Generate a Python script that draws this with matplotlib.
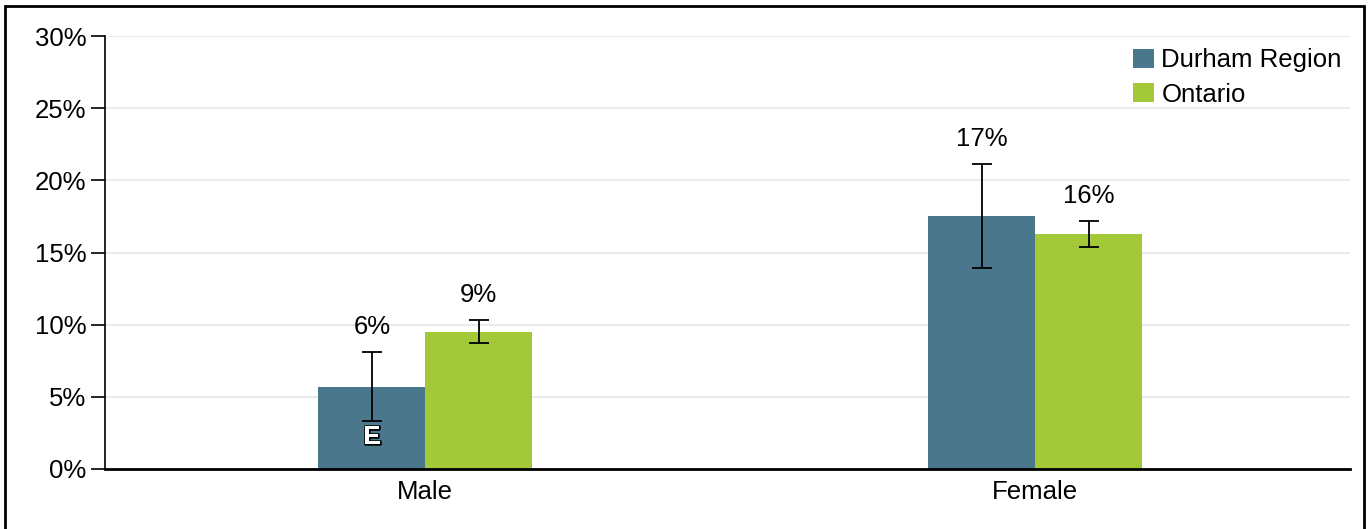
import matplotlib.pyplot as plt
import matplotlib.patheffects as pe
import numpy as np

categories = ['Male', 'Female']
durham = [5.7, 17.5]
durham_lo = [3.3, 13.9]
durham_hi = [8.1, 21.1]
ontario = [9.5, 16.3]
ontario_lo = [8.7, 15.4]
ontario_hi = [10.3, 17.2]
durham_labels = ['6%', '17%']
ontario_labels = ['9%', '16%']

plt.rcParams['font.family'] = ['Liberation Sans', 'DejaVu Sans']
fig = plt.figure(figsize=(13.69, 5.29), dpi=100)
ax = fig.add_axes([105/1369, (529-469)/529, 1245/1369, 433/529])

x = np.arange(len(categories))
w = 0.175
fs = 18.5
for vals, lo, hi, labs, off, col, name in [
        (durham, durham_lo, durham_hi, durham_labels, -w/2, '#4a778c', 'Durham Region'),
        (ontario, ontario_lo, ontario_hi, ontario_labels, w/2, '#a3c939', 'Ontario')]:
    xs = x + off
    ax.bar(xs, vals, w, color=col, label=name, zorder=2)
    err = [np.array(vals) - np.array(lo), np.array(hi) - np.array(vals)]
    ax.errorbar(xs, vals, yerr=err, fmt='none', ecolor='black', elinewidth=1.3,
                capsize=7, capthick=1.3, zorder=3)
    for xi, h, t in zip(xs, hi, labs):
        ax.text(xi, h + 0.9, t, ha='center', va='bottom', fontsize=fs)

ax.text(x[0] - w/2, 2.2, 'E', ha='center', va='center', fontsize=19, color='white',
        fontweight='bold', zorder=4,
        path_effects=[pe.withStroke(linewidth=1.8, foreground='black')])

ax.set_xlim(-0.525, 1.516)
ax.set_ylim(0, 30)
ax.set_yticks(range(0, 31, 5))
ax.set_yticklabels([f'{v}%' for v in range(0, 31, 5)], fontsize=fs)
ax.set_xticks(x)
ax.set_xticklabels(categories, fontsize=fs)
ax.tick_params(axis='x', length=0, pad=8)
ax.tick_params(axis='y', length=10, width=1.2)
ax.grid(axis='y', color='#e6e6e6', linewidth=1.2, zorder=0)
ax.set_axisbelow(True)
for s in ['top', 'right']:
    ax.spines[s].set_visible(False)
ax.spines['bottom'].set_linewidth(2)
ax.spines['left'].set_linewidth(1.2)
ax.legend(loc='upper right', bbox_to_anchor=(1.012, 1.025), frameon=False, fontsize=fs,
          handlelength=0.8, handleheight=0.8, handletextpad=0.3, labelspacing=0.4)

fig.patches.append(plt.Rectangle((5/1369, -0.01), 1359/1369, 1 - 6/529 + 0.01,
                                 transform=fig.transFigure, fill=False,
                                 edgecolor='black', linewidth=2))
fig.savefig('out.png')
